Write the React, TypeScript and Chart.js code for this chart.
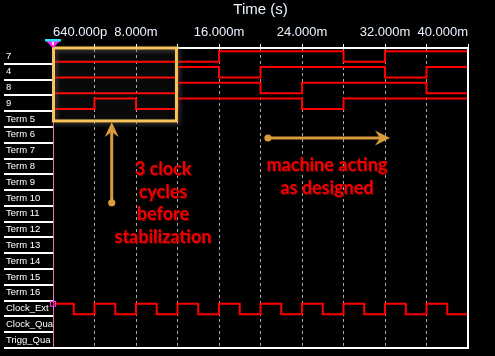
import React, { useEffect, useRef } from 'react';
import { Chart, registerables } from 'chart.js';

Chart.register(...registerables);

// ---- data ----
const rowLabels = ['7', '4', '8', '9', 'Term 5', 'Term 6', 'Term 7', 'Term 8', 'Term 9', 'Term 10', 'Term 11', 'Term 12', 'Term 13', 'Term 14', 'Term 15', 'Term 16', 'Clock_Ext', 'Clock_Qua', 'Trigg_Qua'];
const xTickValues = [0, 4, 8, 12, 16, 20, 24, 28, 32, 36, 40];
const xTickLabels = ['640.000p', '', '8.000m', '', '16.000m', '', '24.000m', '', '32.000m', '', '40.000m'];
const END_TIME = 40;
const busTimes = [0, 4, 8, 12, 16, 20, 24, 28, 32, 36];
const sig7 = [0, 0, 0, 0, 1, 1, 1, 0, 1, 1];
const sig4 = [0, 0, 0, 1, 0, 1, 1, 1, 0, 1];
const sig8 = [0, 0, 0, 1, 1, 0, 1, 1, 1, 0];
const sig9 = [0, 1, 0, 1, 1, 1, 0, 1, 1, 1];
const clockTimes = [0, 2, 4, 6, 8, 10, 12, 14, 16, 18, 20, 22, 24, 26, 28, 30, 32, 34, 36, 38];
const clockExt = [1, 0, 1, 0, 1, 0, 1, 0, 1, 0, 1, 0, 1, 0, 1, 0, 1, 0, 1, 0];
const noteLeft = ['3 clock', 'cycles', 'before', 'stabilization'];
const noteRight = ['machine acting', 'as designed'];

const signals = [
  { row: '7', times: busTimes, bits: sig7 },
  { row: '4', times: busTimes, bits: sig4 },
  { row: '8', times: busTimes, bits: sig8 },
  { row: '9', times: busTimes, bits: sig9 },
  { row: 'Clock_Ext', times: clockTimes, bits: clockExt },
];

const HIGH = 0.2;
const LOW = 0.87;

function buildPoints(row: string, times: number[], bits: number[]) {
  const r = rowLabels.indexOf(row);
  const pts = times.map((t, i) => ({ x: t, y: r + (bits[i] ? HIGH : LOW) }));
  pts.push({ x: END_TIME, y: r + (bits[bits.length - 1] ? HIGH : LOW) });
  return pts;
}

const ARROW = '#d89c3a';

const annotationPlugin = {
  id: 'annotations',
  afterDraw(chart: any) {
    const { ctx, chartArea: a, scales } = chart;
    const xs = scales.x;
    const ys = scales.y;
    ctx.save();

    // frame (right + bottom)
    ctx.strokeStyle = '#ffffff';
    ctx.lineWidth = 2;
    ctx.beginPath();
    ctx.moveTo(a.right, a.top);
    ctx.lineTo(a.right, a.bottom);
    ctx.lineTo(a.left, a.bottom);
    ctx.stroke();

    // highlight box
    const bx0 = xs.getPixelForValue(0.05);
    const bx1 = xs.getPixelForValue(11.9);
    const by0 = ys.getPixelForValue(0);
    const by1 = ys.getPixelForValue(4.62);
    ctx.fillStyle = 'rgba(255,255,255,0.035)';
    ctx.fillRect(bx0, by0, bx1 - bx0, by1 - by0);
    ctx.save();
    ctx.shadowColor = 'rgba(90,90,90,0.7)';
    ctx.shadowBlur = 4;
    ctx.shadowOffsetX = 2;
    ctx.shadowOffsetY = 2;
    ctx.strokeStyle = '#f8c45a';
    ctx.lineWidth = 3;
    ctx.strokeRect(bx0, by0, bx1 - bx0, by1 - by0);
    ctx.restore();

    // vertical arrow
    ctx.fillStyle = ARROW;
    ctx.strokeStyle = ARROW;
    ctx.lineWidth = 3;
    const vx = xs.getPixelForValue(5.66);
    const vTip = ys.getPixelForValue(4.69);
    const vDot = ys.getPixelForValue(9.8);
    ctx.beginPath();
    ctx.moveTo(vx, vDot);
    ctx.lineTo(vx, vTip + 9);
    ctx.stroke();
    ctx.beginPath();
    ctx.moveTo(vx, vTip);
    ctx.lineTo(vx + 7, vTip + 15);
    ctx.lineTo(vx, vTip + 10);
    ctx.lineTo(vx - 7, vTip + 15);
    ctx.closePath();
    ctx.fill();
    ctx.beginPath();
    ctx.arc(vx, vDot, 3.6, 0, Math.PI * 2);
    ctx.fill();

    // horizontal arrow
    const hy = ys.getPixelForValue(5.7);
    const hDot = xs.getPixelForValue(20.72);
    const hTip = xs.getPixelForValue(32.48);
    ctx.beginPath();
    ctx.moveTo(hDot, hy);
    ctx.lineTo(hTip - 9, hy);
    ctx.stroke();
    ctx.beginPath();
    ctx.moveTo(hTip, hy);
    ctx.lineTo(hTip - 15, hy - 7.5);
    ctx.lineTo(hTip - 10, hy);
    ctx.lineTo(hTip - 15, hy + 7.5);
    ctx.closePath();
    ctx.fill();
    ctx.beginPath();
    ctx.arc(hDot, hy, 3.6, 0, Math.PI * 2);
    ctx.fill();

    // notes
    ctx.font = 'bold 18px Lato';
    ctx.textAlign = 'center';
    ctx.textBaseline = 'alphabetic';
    ctx.shadowColor = 'rgba(110,0,0,0.95)';
    ctx.shadowOffsetX = 1;
    ctx.shadowOffsetY = 1;
    ctx.shadowBlur = 0;
    ctx.fillStyle = '#f00000';
    const lx = xs.getPixelForValue(10.6);
    const ly = ys.getPixelForValue(8.04);
    noteLeft.forEach((s, i) => ctx.fillText(s, lx, ly + i * 22.7));
    const rx = xs.getPixelForValue(26.4);
    const ry = ys.getPixelForValue(7.79);
    noteRight.forEach((s, i) => ctx.fillText(s, rx, ry + i * 22.5));
    ctx.shadowColor = 'transparent';
    ctx.shadowOffsetX = 0;
    ctx.shadowOffsetY = 0;

    // cursor marker at top-left
    const mx = xs.getPixelForValue(0);
    const mTop = a.top - 8;
    ctx.fillStyle = '#ff22ff';
    ctx.beginPath();
    ctx.moveTo(mx - 8, mTop);
    ctx.lineTo(mx + 8, mTop);
    ctx.lineTo(mx, a.top);
    ctx.closePath();
    ctx.fill();
    ctx.fillStyle = '#22e8ff';
    ctx.fillRect(mx - 8, mTop - 1, 16, 2.5);
    ctx.fillStyle = '#ffffff';
    ctx.fillRect(mx - 1, mTop + 2, 2, 3);

    // clock start marker
    const cy = ys.getPixelForValue(rowLabels.indexOf('Clock_Ext') + HIGH);
    ctx.strokeStyle = '#ff30ff';
    ctx.lineWidth = 1;
    ctx.strokeRect(mx - 2.5, cy - 2.5, 5, 5);

    ctx.restore();
  },
};

export default function App() {
  const ref = useRef<HTMLCanvasElement | null>(null);

  useEffect(() => {
    document.body.style.margin = '0';
    document.body.style.background = '#000';
    const canvas = ref.current;
    if (!canvas) return;

    const datasets = signals.map((s) => ({
      label: s.row,
      data: buildPoints(s.row, s.times, s.bits),
      borderColor: '#ff0000',
      borderWidth: 2,
      pointRadius: 0,
      stepped: true,
      fill: false,
    }));

    const chart = new Chart(canvas, {
      type: 'line',
      data: { datasets },
      options: {
        animation: false,
        responsive: false,
        devicePixelRatio: 1,
        layout: { padding: { left: 6, top: 0, right: 27, bottom: 8 } },
        plugins: { legend: { display: false }, tooltip: { enabled: false } },
        scales: {
          x: {
            type: 'linear',
            position: 'top',
            min: 0,
            max: END_TIME,
            afterBuildTicks: (scale: any) => {
              scale.ticks = xTickValues.map((v) => ({ value: v }));
            },
            afterFit: (scale: any) => {
              scale.height = 48;
              scale.paddingLeft = 0;
              scale.paddingRight = 0;
            },
            ticks: {
              autoSkip: false,
              maxRotation: 0,
              align: 'inner',
              padding: 4,
              color: '#eaf4ff',
              font: { family: 'Liberation Sans', size: 13 },
              callback: (_v: any, i: number) => xTickLabels[i],
            },
            grid: {
              color: (c: any) => (c.tick && (c.tick.value === 0 || c.tick.value === END_TIME) ? 'transparent' : '#a8a8a8'),
              lineWidth: 1,
              drawTicks: true,
              tickLength: 4,
              tickColor: '#ffffff',
              tickWidth: 1,
            },
            border: { display: true, color: '#ffffff', width: 2, dash: [3, 3] },
            title: {
              display: true,
              text: 'Time (s)',
              color: '#eaf4ff',
              font: { family: 'Liberation Sans', size: 15 },
              padding: { top: 1, bottom: 0 },
            },
          },
          y: {
            type: 'linear',
            position: 'left',
            min: 0,
            max: rowLabels.length,
            reverse: true,
            afterBuildTicks: (scale: any) => {
              scale.ticks = rowLabels.map((_l, i) => ({ value: i + 0.5 }));
            },
            afterFit: (scale: any) => {
              scale.width = 47;
              scale.paddingTop = 0;
              scale.paddingBottom = 0;
            },
            ticks: {
              autoSkip: false,
              crossAlign: 'far',
              padding: 0,
              color: '#ffffff',
              font: { family: 'Liberation Sans', size: 9.5 },
              callback: (_v: any, i: number) => rowLabels[i],
            },
            grid: {
              offset: true,
              drawOnChartArea: false,
              drawTicks: true,
              tickLength: 49,
              lineWidth: 2,
              color: 'transparent',
              tickColor: (c: any) => (c.index === 0 ? 'transparent' : '#ffffff'),
              tickWidth: 2,
            },
            border: { display: true, color: '#e27aaa', width: 1 },
          },
        },
      },
      plugins: [annotationPlugin],
    } as any);

    return () => chart.destroy();
  }, []);

  return (
    <div style={{ width: 495, height: 356, background: '#000' }}>
      <canvas ref={ref} width={495} height={356} style={{ display: 'block', background: '#000' }} />
    </div>
  );
}
